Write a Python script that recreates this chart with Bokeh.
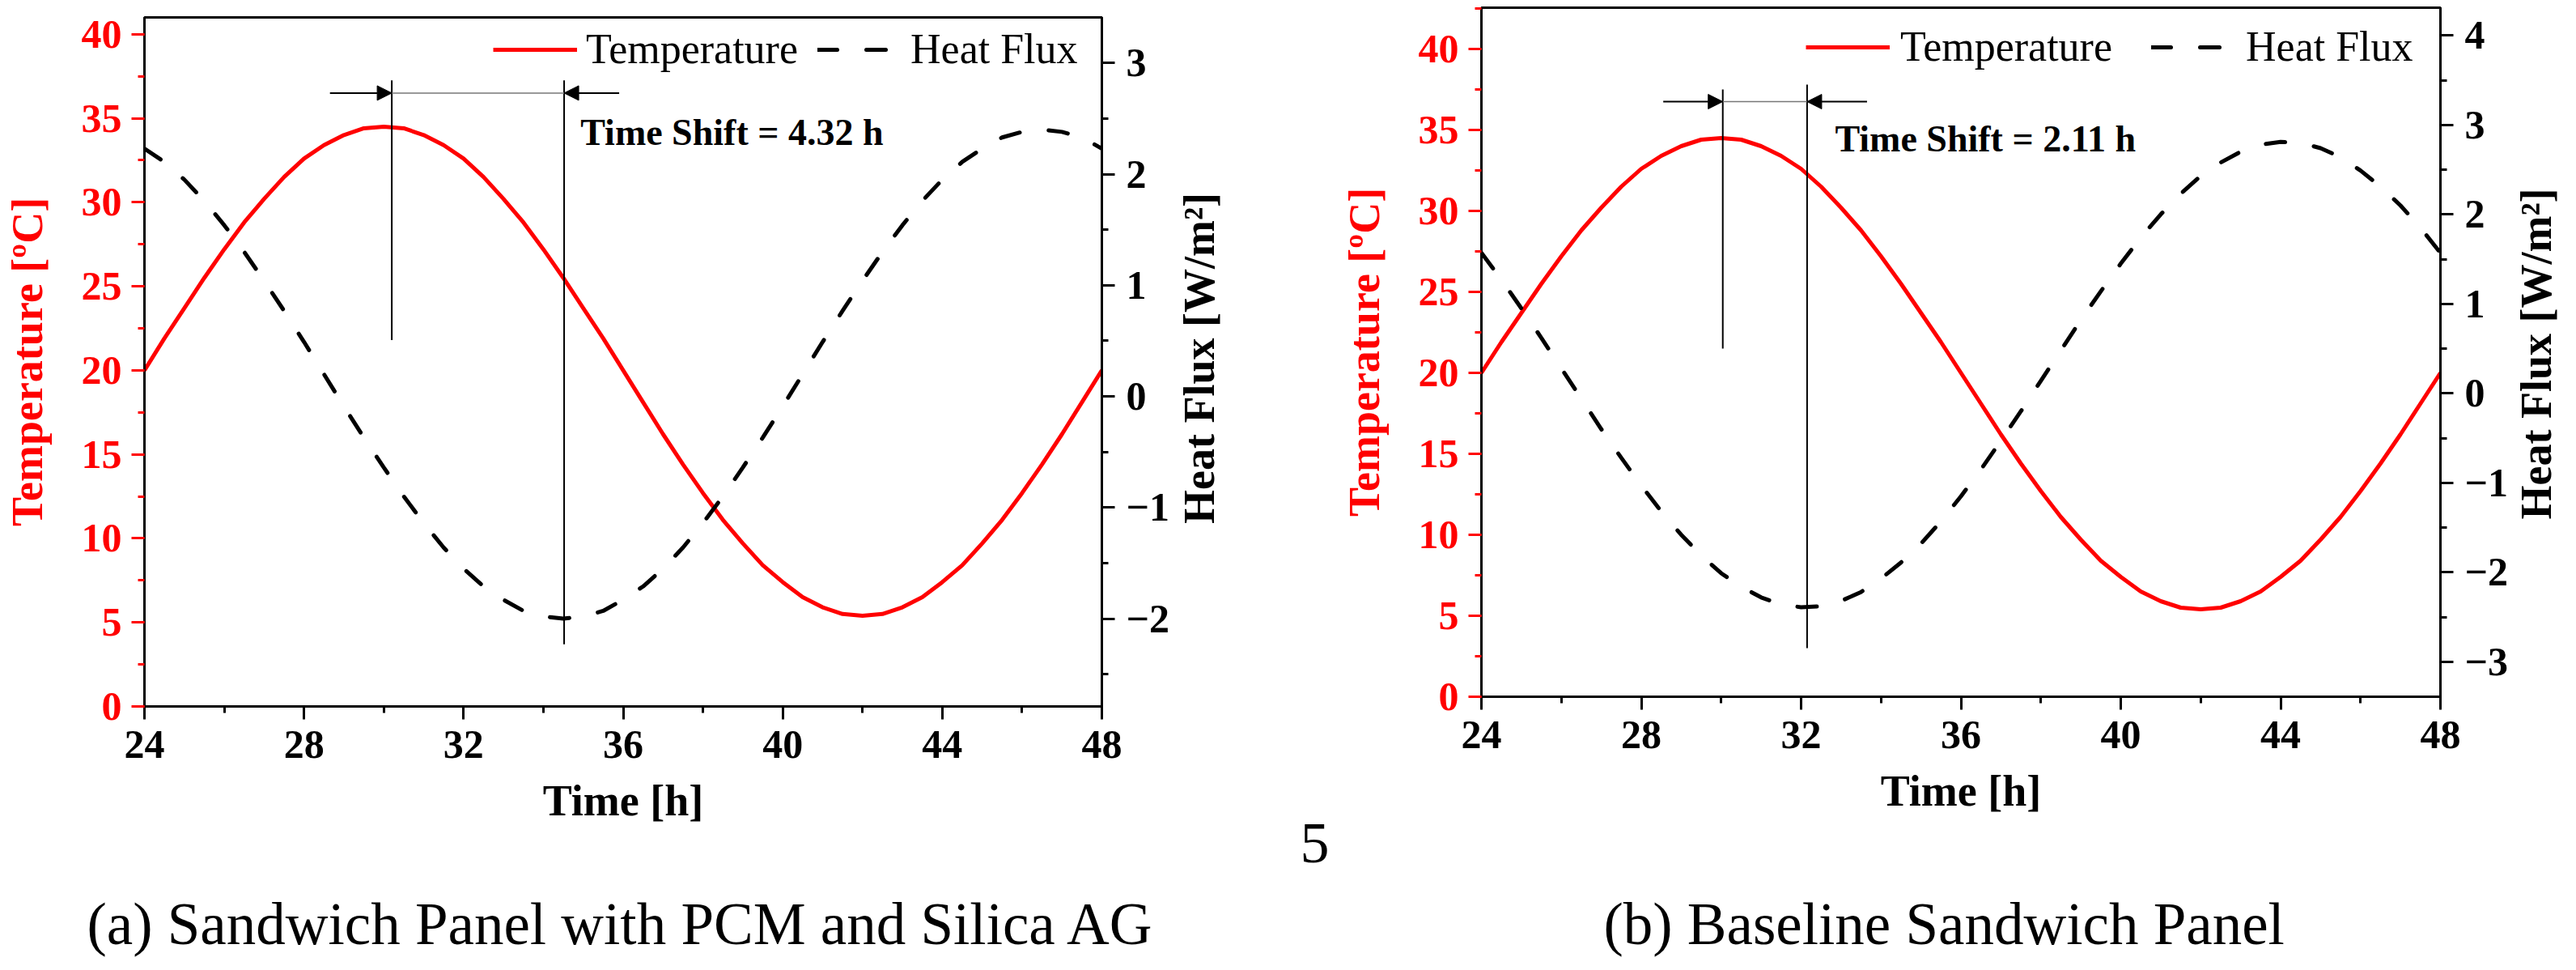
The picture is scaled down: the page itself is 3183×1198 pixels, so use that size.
import math
from bokeh.plotting import figure
from bokeh.models import (Range1d, LinearAxis, SingleIntervalTicker, Legend, LegendItem,
                          Label, Arrow, NormalHead)
from bokeh.layouts import row, column
from bokeh.embed import file_html
from bokeh.resources import INLINE

# ---------------- data ----------------
hours = [24.0, 24.5, 25.0, 25.5, 26.0, 26.5, 27.0, 27.5, 28.0, 28.5, 29.0, 29.5,
         30.0, 30.5, 31.0, 31.5, 32.0, 32.5, 33.0, 33.5, 34.0, 34.5, 35.0, 35.5,
         36.0, 36.5, 37.0, 37.5, 38.0, 38.5, 39.0, 39.5, 40.0, 40.5, 41.0, 41.5,
         42.0, 42.5, 43.0, 43.5, 44.0, 44.5, 45.0, 45.5, 46.0, 46.5, 47.0, 47.5, 48.0]

temp_a = [20.0, 21.9, 23.7, 25.5, 27.2, 28.8, 30.2, 31.5, 32.6, 33.4, 34.0, 34.4,
          34.5, 34.4, 34.0, 33.4, 32.6, 31.5, 30.2, 28.8, 27.2, 25.5, 23.7, 21.9,
          20.0, 18.1, 16.2, 14.4, 12.7, 11.1, 9.7, 8.4, 7.4, 6.5, 5.9, 5.5,
          5.4, 5.5, 5.9, 6.5, 7.4, 8.4, 9.7, 11.1, 12.7, 14.4, 16.2, 18.1, 20.0]
flux_a = [2.23, 2.11, 1.95, 1.76, 1.54, 1.30, 1.04, 0.77, 0.49, 0.20, -0.09, -0.37,
          -0.64, -0.90, -1.14, -1.36, -1.55, -1.71, -1.83, -1.93, -1.98, -2.00, -1.98, -1.93,
          -1.83, -1.71, -1.55, -1.36, -1.14, -0.90, -0.64, -0.37, -0.09, 0.20, 0.49, 0.77,
          1.04, 1.30, 1.54, 1.76, 1.95, 2.11, 2.23, 2.33, 2.38, 2.40, 2.38, 2.33, 2.23]

temp_b = [20.0, 21.9, 23.7, 25.5, 27.2, 28.8, 30.2, 31.5, 32.6, 33.4, 34.0, 34.4,
          34.5, 34.4, 34.0, 33.4, 32.6, 31.5, 30.2, 28.8, 27.2, 25.5, 23.7, 21.9,
          20.0, 18.1, 16.2, 14.4, 12.7, 11.1, 9.7, 8.4, 7.4, 6.5, 5.9, 5.5,
          5.4, 5.5, 5.9, 6.5, 7.4, 8.4, 9.7, 11.1, 12.7, 14.4, 16.2, 18.1, 20.0]
flux_b = [1.57, 1.27, 0.95, 0.62, 0.28, -0.06, -0.40, -0.72, -1.03, -1.32, -1.58, -1.81,
          -2.01, -2.16, -2.28, -2.36, -2.39, -2.38, -2.32, -2.22, -2.07, -1.89, -1.68, -1.43,
          -1.15, -0.85, -0.53, -0.20, 0.14, 0.48, 0.82, 1.14, 1.45, 1.74, 2.00, 2.23,
          2.43, 2.58, 2.70, 2.78, 2.81, 2.80, 2.74, 2.64, 2.49, 2.31, 2.10, 1.85, 1.57]

peak_a, shift_a = 30.2, 4.32
peak_b, shift_b = 30.04, 2.11

series_names = ["Temperature", "Heat Flux"]
x_title = "Time [h]"
left_title = "Temperature [ºC]"
right_title = "Heat Flux [W/m²]"
caption_a = "(a) Sandwich Panel with PCM and Silica AG"
caption_b = "(b) Baseline Sandwich Panel"
page_number = "5"

FONT = "Liberation Serif"
RED = "#ff0000"
FULL_H = 1182
MAIN_H = 1077
CAP_H = FULL_H - MAIN_H


def no_frame_align(f):
    if "frame_align" in f.properties():
        f.frame_align = False


def style_axis(ax, color, ticker, label_standoff, major_standoff):
    ax.ticker = ticker
    ax.axis_line_color = "black"
    ax.axis_line_width = 3
    ax.major_tick_line_color = color
    ax.minor_tick_line_color = color
    ax.major_tick_line_width = 3
    ax.minor_tick_line_width = 3
    ax.major_tick_out = 16
    ax.major_tick_in = 0
    ax.minor_tick_out = 8
    ax.minor_tick_in = 0
    ax.major_label_text_color = color
    ax.major_label_text_font = FONT
    ax.major_label_text_font_style = "bold"
    ax.major_label_text_font_size = "50px"
    ax.major_label_standoff = major_standoff
    ax.axis_label_text_color = color
    ax.axis_label_text_font = FONT
    ax.axis_label_text_font_style = "bold"
    ax.axis_label_text_font_size = "54px"
    ax.axis_label_standoff = label_standoff


def blank_fig(w, h):
    f = figure(width=w, height=h, x_range=Range1d(0, w), y_range=Range1d(0, h),
               output_backend="svg", toolbar_location=None, min_border=0,
               x_axis_type=None, y_axis_type=None)
    f.outline_line_color = None
    f.grid.visible = False
    f.background_fill_color = "white"
    f.border_fill_color = "white"
    no_frame_align(f)
    return f


def rotated_label(x, y, text):
    return Label(x=x, y=y, text=text, angle=math.pi / 2, text_font=FONT,
                 text_font_style="bold", text_font_size="54px", text_color="black",
                 text_align="center", text_baseline="alphabetic")


def caption_label(x, text):
    return Label(x=x, y=41, text=text, text_font=FONT, text_font_size="73px",
                 text_color="black", text_baseline="alphabetic", text_align="left")


def make_panel(temp, flux, t_end, f_range, peak, shift, geom, ann):
    p = figure(width=geom["w"], height=MAIN_H,
               x_range=Range1d(24, 48), y_range=Range1d(0, t_end),
               output_backend="svg", toolbar_location=None,
               min_border_left=geom["l"], min_border_right=geom["w"] - geom["l"] - geom["fw"],
               min_border_top=geom["t"], min_border_bottom=MAIN_H - geom["t"] - 851)
    no_frame_align(p)
    p.extra_y_ranges = {"flux": Range1d(f_range[0], f_range[1])}
    p.xgrid.visible = False
    p.ygrid.visible = False
    p.outline_line_color = "black"
    p.outline_line_width = 3
    p.background_fill_color = "white"
    p.border_fill_color = "white"

    xa = p.xaxis[0]
    style_axis(xa, "black", SingleIntervalTicker(interval=4, num_minor_ticks=2), 20, 14)
    xa.axis_label = x_title

    ya = p.yaxis[0]
    style_axis(ya, RED, SingleIntervalTicker(interval=5, num_minor_ticks=2), 34, 12)
    ya.axis_line_color = "black"
    ya.axis_label = left_title

    ra = LinearAxis(y_range_name="flux")
    style_axis(ra, "black", SingleIntervalTicker(interval=1, num_minor_ticks=2), 0, 14)
    ra.major_label_overrides = {-1: "−1", -2: "−2", -3: "−3"}
    p.add_layout(ra, "right")

    rt = p.line(hours, temp, line_color=RED, line_width=5, line_join="round")
    rf = p.line(hours, flux, y_range_name="flux", line_color="black", line_width=5,
                line_dash="24 36", line_cap="round")

    legend = Legend(items=[LegendItem(label=series_names[0], renderers=[rt]),
                           LegendItem(label=series_names[1], renderers=[rf])],
                    orientation="horizontal", location="top_right",
                    margin=ann["lg_margin"], padding=0, spacing=ann["lg_spacing"],
                    glyph_width=104, glyph_height=30, label_standoff=ann["lg_standoff"],
                    label_width=ann["lg_label_width"],
                    label_text_font=FONT, label_text_font_size="52px",
                    label_text_color="black",
                    border_line_alpha=0, background_fill_alpha=0)
    p.add_layout(legend)

    # time-shift annotation
    t2 = peak + shift
    p.segment(x0=[peak, t2], y0=[ann["v1"][0], ann["v2"][0]],
              x1=[peak, t2], y1=[ann["v1"][1], ann["v2"][1]],
              line_color="black", line_width=2)
    ya_arrow = ann["ay"]
    p.segment(x0=[peak], y0=[ya_arrow], x1=[t2], y1=[ya_arrow],
              line_color="#777777", line_width=1.5)
    p.add_layout(Arrow(end=NormalHead(size=18, fill_color="black", line_color="black", line_width=1),
                       x_start=ann["a_left"], y_start=ya_arrow, x_end=peak, y_end=ya_arrow,
                       line_color="black", line_width=2))
    p.add_layout(Arrow(end=NormalHead(size=18, fill_color="black", line_color="black", line_width=1),
                       x_start=ann["a_right"], y_start=ya_arrow, x_end=t2, y_end=ya_arrow,
                       line_color="black", line_width=2))
    p.add_layout(Label(x=ann["tx"], y=ann["ty"], text="Time Shift = %.2f h" % shift,
                       text_font=FONT, text_font_style="bold", text_font_size="46px",
                       text_color="black", text_baseline="alphabetic", text_align="left"))
    return p


# panel (a) with its caption: page x 8..1455
p1 = make_panel(temp_a, flux_a, 41.0, (-2.79, 3.41), peak_a, shift_a,
                dict(w=1447, l=173, fw=1188, t=21),
                dict(v1=(21.8, 37.25), v2=(3.7, 37.25), ay=36.5, a_left=28.65, a_right=35.9,
                     tx=34.93, ty=34.15, lg_margin=10, lg_spacing=24, lg_standoff=11,
                     lg_label_width=226))
cap_a = blank_fig(1447, CAP_H)
cap_a.add_layout(caption_label(107, caption_a))

# strip between the panels: right-axis title of (a) and the page number
mid = blank_fig(205, FULL_H)
mid.add_layout(rotated_label(34, FULL_H - 442, right_title))
mid.add_layout(Label(x=159, y=FULL_H - 1041, text=page_number, text_font=FONT,
                     text_font_size="72px", text_color="black",
                     text_baseline="alphabetic", text_align="left"))

# panel (b) with its caption: page x 1660..3110
p2 = make_panel(temp_b, flux_b, 42.55, (-3.39, 4.31), peak_b, shift_b,
                dict(w=1450, l=176, fw=1187, t=9),
                dict(v1=(21.5, 37.5), v2=(3.0, 37.8), ay=36.75, a_left=28.55, a_right=33.65,
                     tx=32.85, ty=34.45, lg_margin=19, lg_spacing=48, lg_standoff=13,
                     lg_label_width=221))
cap_b = blank_fig(1450, CAP_H)
cap_b.add_layout(caption_label(329, caption_b))

# strip right of (b): its right-axis title
rstrip = blank_fig(65, FULL_H)
rstrip.add_layout(rotated_label(31, FULL_H - 436.5, right_title))

layout = row(column(p1, cap_a, spacing=0), mid, column(p2, cap_b, spacing=0), rstrip, spacing=0)
open("out.html", "w").write(file_html(layout, INLINE))
